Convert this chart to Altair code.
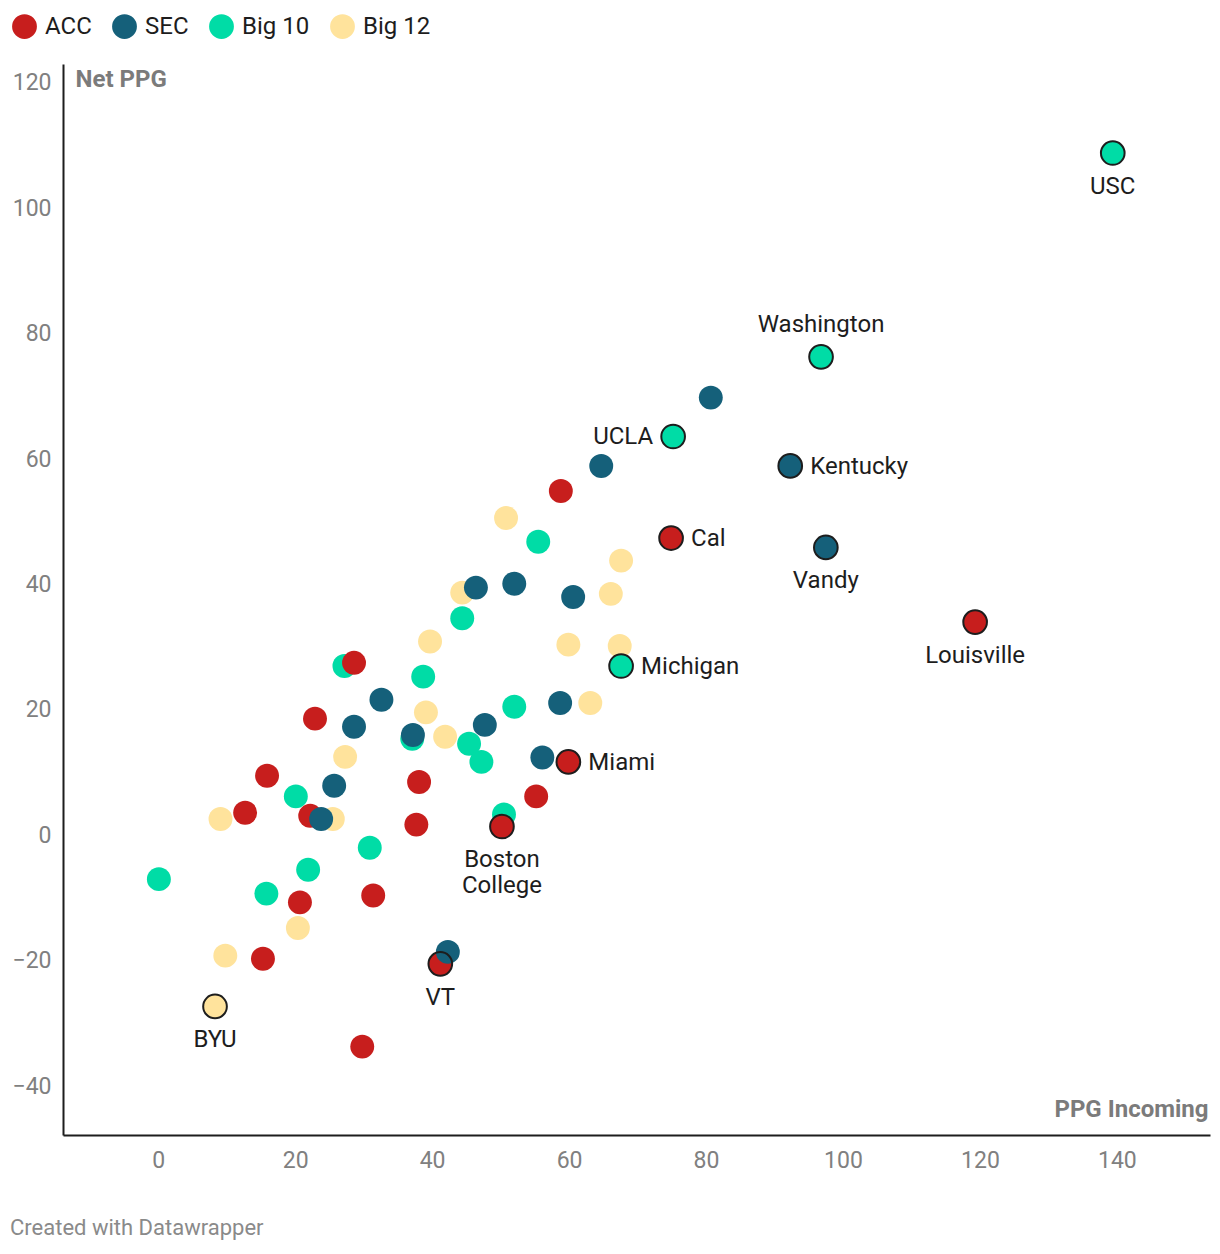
import altair as alt
import pandas as pd

conferences = ["ACC", "SEC", "Big 10", "Big 12"]
conf_colors = ["#c71e1d", "#15607a", "#00dca6", "#ffe39c"]

acc_x = [28.6, 22.9, 15.9, 12.7, 22.2, 38.1, 37.7, 20.7, 31.4, 15.3, 41.2, 29.8, 55.2, 50.2, 59.9, 58.8, 74.9, 119.3]
acc_y = [27.5, 18.6, 9.5, 3.6, 3.1, 8.5, 1.7, -10.7, -9.6, -19.7, -20.5, -33.7, 6.2, 1.4, 11.7, 54.9, 47.4, 34.0]
acc_team = ["", "", "", "", "", "", "", "", "", "", "VT", "", "", "Boston College", "Miami", "", "Cal", "Louisville"]

sec_x = [46.4, 52.0, 60.6, 32.6, 28.6, 37.2, 47.7, 58.7, 56.1, 25.7, 23.8, 42.3, 64.7, 80.7, 92.3, 97.5]
sec_y = [39.5, 40.1, 38.0, 21.6, 17.3, 16.0, 17.6, 21.1, 12.4, 7.9, 2.6, -18.6, 58.9, 69.8, 58.9, 45.9]
sec_team = ["", "", "", "", "", "", "", "", "", "", "", "", "", "", "Kentucky", "Vandy"]

b10_x = [55.5, 44.4, 27.2, 38.7, 37.1, 45.4, 47.2, 52.0, 20.1, 50.5, 30.9, 21.9, 0.1, 15.8, 67.6, 75.2, 96.8, 139.4]
b10_y = [46.8, 34.6, 27.0, 25.3, 15.4, 14.6, 11.7, 20.5, 6.2, 3.3, -2.0, -5.5, -7.0, -9.3, 27.0, 63.6, 76.3, 108.8]
b10_team = ["", "", "", "", "", "", "", "", "", "", "", "", "", "", "Michigan", "UCLA", "Washington", "USC"]

b12_x = [50.8, 67.6, 44.4, 66.1, 39.7, 59.9, 67.4, 39.1, 41.9, 63.1, 27.3, 9.1, 25.5, 20.4, 9.8, 8.3]
b12_y = [50.6, 43.8, 38.7, 38.5, 30.9, 30.4, 30.2, 19.6, 15.7, 21.1, 12.5, 2.6, 2.6, -14.8, -19.2, -27.3]
b12_team = ["", "", "", "", "", "", "", "", "", "", "", "", "", "", "", "BYU"]

x_ticks = [0, 20, 40, 60, 80, 100, 120, 140]
y_ticks = [-40, -20, 0, 20, 40, 60, 80, 100, 120]

label_right = ["Kentucky", "Cal", "Michigan", "Miami"]
label_left = ["UCLA"]
label_above = ["Washington"]
label_below = ["USC", "Vandy", "Louisville", "Boston College", "VT", "BYU"]
highlighted = label_right + label_left + label_above + label_below

rows = []
for conf, xs, ys, teams in [("Big 12", b12_x, b12_y, b12_team),
                            ("Big 10", b10_x, b10_y, b10_team),
                            ("ACC", acc_x, acc_y, acc_team),
                            ("SEC", sec_x, sec_y, sec_team)]:
    for x, y, t in zip(xs, ys, teams):
        rows.append({"conf": conf, "x": x, "y": y, "team": t if t else "-"})
df = pd.DataFrame(rows)
df["idx"] = range(len(df))
df["label"] = df["team"].str.replace(" ", "\n")

FONT = "Roboto"
xscale = alt.Scale(domain=[-13.9, 153.6], nice=False, zero=False)
yscale = alt.Scale(domain=[-47.8, 123.0], nice=False, zero=False)

base = alt.Chart(df)

xenc = alt.X("x:Q", scale=xscale, axis=alt.Axis(
    values=x_ticks, title="PPG Incoming", titleX=1145, titleY=-19,
    titleAlign="right", titleAnchor="end", titleBaseline="alphabetic", titleAngle=0))
yenc = alt.Y("y:Q", scale=yscale, axis=alt.Axis(
    values=y_ticks, title="Net PPG", titleX=12, titleY=22,
    titleAlign="left", titleBaseline="alphabetic", titleAngle=0))

points = base.mark_circle(size=572, opacity=1).encode(
    x=xenc,
    y=yenc,
    color=alt.Color("conf:N", scale=alt.Scale(domain=conferences, range=conf_colors),
                    legend=alt.Legend(title=None)),
    order=alt.Order("idx:Q"),
)

outlines = base.transform_filter(
    alt.FieldOneOfPredicate(field="team", oneOf=highlighted)
).mark_point(
    shape="circle", filled=False, size=560, stroke="#1d1d1d", strokeWidth=2, opacity=1
).encode(x="x:Q", y="y:Q")

def labels(names, **kw):
    return base.transform_filter(
        alt.FieldOneOfPredicate(field="team", oneOf=names)
    ).mark_text(font=FONT, fontSize=24, color="#1d1d1d", lineBreak="\n",
                lineHeight=26, baseline="alphabetic", **kw).encode(
        x="x:Q", y="y:Q", text="label:N")

lab_r = labels(label_right, align="left", dx=20, dy=8)
lab_l = labels(label_left, align="right", dx=-20, dy=8)
lab_a = labels(label_above, align="center", dy=-25)
lab_b = labels(label_below, align="center", dy=41)

chart = alt.layer(points, outlines, lab_r, lab_l, lab_a, lab_b).properties(
    width=1147, height=1071,
    autosize=alt.AutoSizeParams(type="none"),
    padding={"left": 55, "top": 56, "right": 2, "bottom": 118},
    title=alt.TitleParams("Created with Datawrapper", orient="bottom", anchor="start",
                          frame="group", dx=-53, offset=46, font=FONT, fontSize=22,
                          fontWeight="normal", color="#8a8a8a"),
).configure_view(stroke=None).configure_axis(
    grid=False, ticks=False, domainColor="#1d1d1d", domainWidth=2,
    labelFont=FONT, labelFontSize=23, labelColor="#808080",
    titleFont=FONT, titleFontSize=24, titleFontWeight="bold", titleColor="#7b7b7b",
).configure_axisX(labelPadding=14).configure_axisY(labelPadding=12).configure_legend(
    orient="none", legendX=-51, legendY=-50, direction="horizontal",
    symbolType="circle", symbolSize=616, symbolStrokeWidth=0, symbolOpacity=1,
    labelFont=FONT, labelFontSize=24, labelColor="#1d1d1d", labelOffset=8,
    columnPadding=20, padding=0,
)

chart.save("out.html", embed_options={"renderer": "svg", "actions": False})
